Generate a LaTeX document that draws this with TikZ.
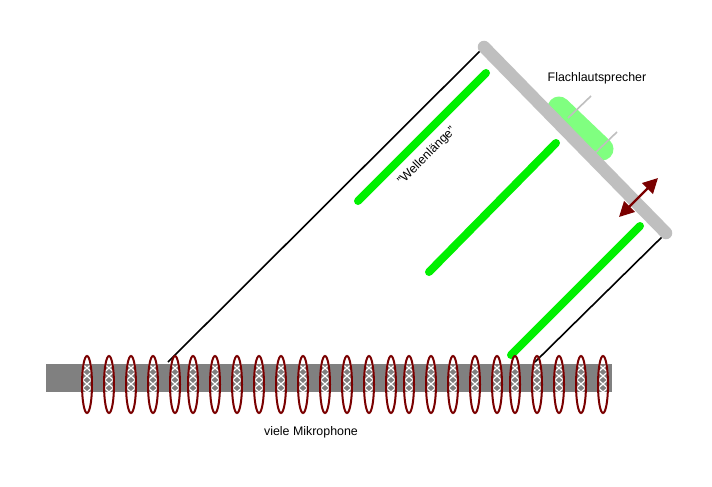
\documentclass[tikz,border=0pt]{standalone}
\usepackage{fontspec}
\setmainfont{Liberation Sans}
\usetikzlibrary{arrows.meta}
\definecolor{panelgrey}{HTML}{BFBFBF}
\definecolor{bargrey}{HTML}{808080}
\definecolor{wavegreen}{HTML}{00F000}
\definecolor{lightgreen}{HTML}{80FF80}
\definecolor{darkred}{HTML}{7A0000}
\tikzset{
  wave/.style={line width=8pt,color=wavegreen,line cap=round},
  ray/.style={line width=1.6pt,color=black},
  panel/.style={line width=12.5pt,color=panelgrey,line cap=round},
  speaker/.style={line width=23pt,color=lightgreen,line cap=round},
  pin/.style={line width=1.6pt,color=panelgrey},
  moveArrow/.style={line width=2.4pt,color=darkred,{Triangle[length=15pt,width=15pt]}-{Triangle[length=15pt,width=15pt]}},
  micoutline/.style={line width=2pt,draw=darkred},
  hatch/.style={line width=1.2pt,color=white},
  caption/.style={font=\fontsize{12.4}{14}\selectfont,text=black,inner sep=0pt}
}
\begin{document}
\begin{tikzpicture}[x=1pt,y=-1pt]
\useasboundingbox (0,0) rectangle (712,487);
\fill[white] (0,0) rectangle (712,487);
\fill[bargrey] (46,364) rectangle (612,392);
% rays
\coordinate (panelA) at (484,47);
\coordinate (panelB) at (666,233);
\coordinate (rayA) at (168,362);
\coordinate (rayB) at (535,362);
\draw[ray] (panelA) -- (rayA);
\draw[ray] (panelB) -- (rayB);
% panel
\draw[speaker] (559,108) -- (602,149);
\draw[panel] (panelA) -- (panelB);
\draw[pin] (568,118) -- (591,96);
\draw[pin] (594,154) -- (617,132);
% waves
\draw[wave] (486,73) -- (358,201);
\draw[wave] (556,143) -- (429,272);
\draw[wave] (640,226) -- (511,355);
% arrow
\coordinate (arrA) at (619,217);
\coordinate (arrB) at (658,178);
\draw[moveArrow] (arrA) -- (arrB);
% microphones
\foreach \mx in {87,109,131,153,175,193,215,237,259,281,303,325,347,369,391,409,431,453,475,497,515,537,559,581,603}{
  \begin{scope}
    \clip (\mx-4.5,364) rectangle (\mx+4.5,392);
    \foreach \oy in {356,364,...,396}{
      \draw[hatch] (\mx-4.5,\oy) -- (\mx+4.5,\oy+8);
      \draw[hatch] (\mx+4.5,\oy) -- (\mx-4.5,\oy+8);
    }
  \end{scope}
  \draw[micoutline] (\mx,384.5) ellipse [x radius=5,y radius=28.5];
}
% labels
\node[caption] (lblSpeaker) at (597,78) {Flachlautsprecher};
\node[caption,rotate=45] (lblWave) at (427,156) {"Wellenlänge"};
\node[caption] (lblMics) at (311,432.5) {viele Mikrophone};
\end{tikzpicture}
\end{document}
